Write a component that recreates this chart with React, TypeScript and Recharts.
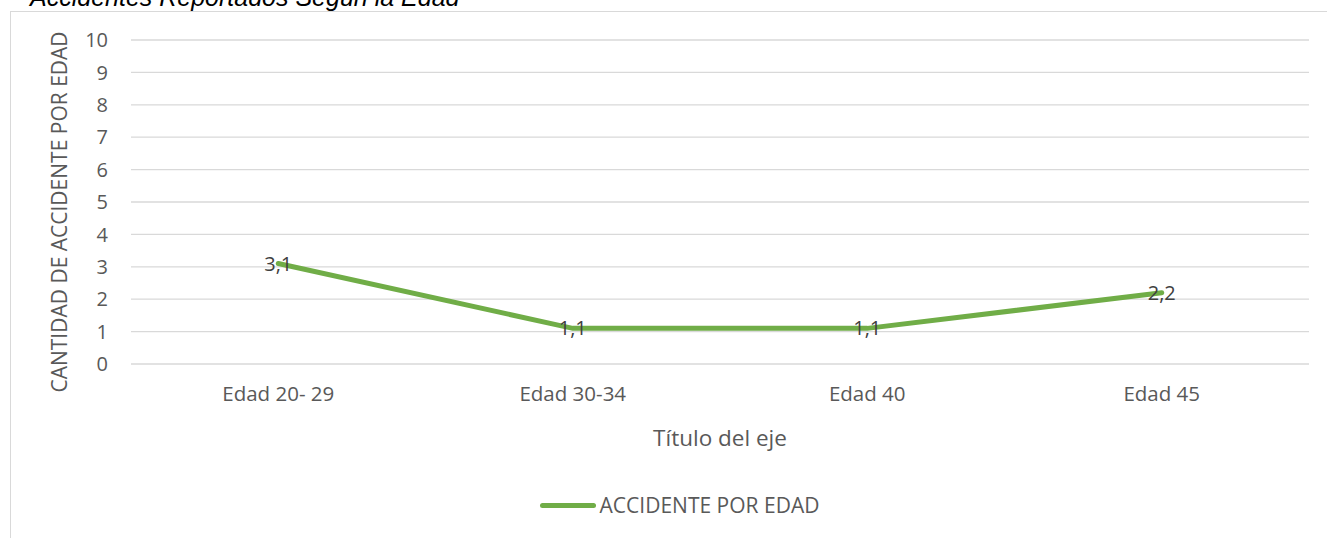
import { LineChart, Line, XAxis, YAxis, CartesianGrid, Legend, LabelList } from "recharts";

const categories = ["Edad 20- 29", "Edad 30-34", "Edad 40", "Edad 45"];
const accidentes = [3.1, 1.1, 1.1, 2.2];
const yTicks = [0, 1, 2, 3, 4, 5, 6, 7, 8, 9, 10];

const data = categories.map((edad, i) => ({ edad, valor: accidentes[i] }));

const FONT = "'Open Sans', 'Noto Sans', sans-serif";
const GREEN = "#70AD47";

export default function App() {
  return (
    <div
      style={{
        position: "fixed",
        top: 0,
        left: 0,
        width: 1327,
        height: 538,
        overflow: "hidden",
        background: "#fff",
        fontFamily: FONT,
      }}
    >
      {/* title sits partly above the visible area, as in the source */}
      <div
        style={{
          position: "absolute",
          top: -15,
          left: 30,
          fontSize: 25,
          lineHeight: "25px",
          fontStyle: "italic",
          color: "#000",
          whiteSpace: "nowrap",
          fontFamily: "'Liberation Sans', sans-serif",
        }}
      >
        Accidentes Reportados Según la Edad
      </div>
      <div
        style={{
          position: "absolute",
          top: 11,
          left: 10,
          width: 1400,
          height: 600,
          border: "1px solid #d9d9d9",
        }}
      />
      <div style={{ position: "absolute", top: 0, left: 0 }}>
        <LineChart
          width={1327}
          height={538}
          data={data}
          margin={{ top: 40, right: 18, left: 0, bottom: 84 }}
        >
          <CartesianGrid vertical={false} stroke="#d9d9d9" strokeWidth={1.3} />
          <XAxis
            dataKey="edad"
            scale="band"
            axisLine={false}
            tickLine={false}
            tickSize={0}
            tickMargin={22}
            height={90}
            interval={0}
            tick={{ fill: "#595959", fontSize: 20.5, fontFamily: FONT }}
            label={{
              value: "Título del eje",
              position: "insideBottom",
              offset: 8,
              fill: "#595959",
              fontSize: 22.5,
              fontFamily: FONT,
            }}
          />
          <YAxis
            domain={[0, 10]}
            ticks={yTicks}
            interval={0}
            axisLine={false}
            tickLine={false}
            tickSize={0}
            tickMargin={23}
            width={131}
            tick={{ fill: "#595959", fontSize: 20, fontFamily: FONT }}
            label={{
              value: "CANTIDAD DE ACCIDENTE POR EDAD",
              angle: -90,
              position: "center",
              dx: -6,
              dy: 10,
              fill: "#595959",
              fontSize: 21,
              fontFamily: FONT,
            }}
          />
          <Legend
            layout="horizontal"
            verticalAlign="middle"
            align="center"
            wrapperStyle={{ top: 491, left: 0, width: 1327 }}
            content={() => (
              <div
                style={{
                  display: "flex",
                  justifyContent: "center",
                  alignItems: "center",
                  fontFamily: FONT,
                  fontSize: 21,
                  color: "#595959",
                  paddingLeft: 32,
                }}
              >
                <span
                  style={{
                    display: "inline-block",
                    width: 56,
                    height: 5,
                    borderRadius: 3,
                    background: GREEN,
                    marginRight: 4,
                  }}
                />
                ACCIDENTE POR EDAD
              </div>
            )}
          />
          <Line
            type="linear"
            dataKey="valor"
            name="ACCIDENTE POR EDAD"
            stroke={GREEN}
            strokeWidth={5}
            strokeLinecap="round"
            dot={false}
            activeDot={false}
            isAnimationActive={false}
          >
            <LabelList
              dataKey="valor"
              position="center"
              fill="#404040"
              fontSize={20}
              fontFamily={FONT}
              formatter={(v: number) => String(v).replace(".", ",")}
            />
          </Line>
        </LineChart>
      </div>
    </div>
  );
}
